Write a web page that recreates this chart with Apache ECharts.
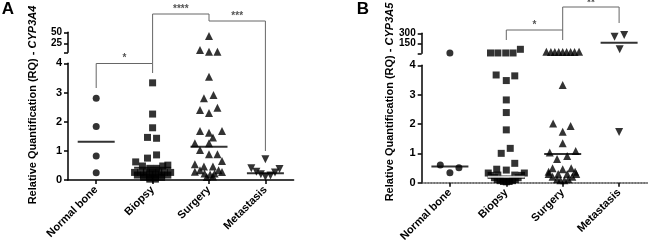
<!DOCTYPE html>
<html>
<head>
<meta charset="utf-8">
<script src="https://cdn.jsdelivr.net/npm/echarts@6/dist/echarts.min.js"></script>
<style>
  html, body { margin: 0; padding: 0; background: #fff; }
  #container { width: 650px; height: 245px; }
</style>
</head>
<body>
<div id="container"></div>
<script>
var categories = ['Normal bone', 'Biopsy', 'Surgery', 'Metastasis'];

// points are [horizontal jitter (category units), RQ value]
// panel A - CYP3A4
var aNormal = [[0, 2.8], [0, 1.83], [0, 0.82], [0, 0.25]];
var aBiopsy = [[0, 3.33], [0, 2.26], [0, 1.79], [-0.09, 1.46], [0.07, 1.43], [-0.09, 0.75], [0.07, 0.86],
    [-0.3, 0.62], [-0.18, 0.48], [0.18, 0.48], [0.27, 0.51], [-0.05, 0.4], [0.07, 0.4],
    [-0.32, 0.26], [-0.21, 0.26], [-0.11, 0.27], [0, 0.26], [0.11, 0.27], [0.21, 0.26], [0.32, 0.26],
    [-0.27, 0.17], [-0.16, 0.17], [-0.05, 0.18], [0.05, 0.18], [0.16, 0.17], [0.27, 0.17],
    [-0.16, 0.09], [-0.05, 0.08], [0.05, 0.08], [0.16, 0.09], [-0.05, 0.03], [0.05, 0.03]];
var aSurgery = [[0, 3.54], [-0.09, 2.8], [0.08, 2.91], [-0.16, 2.4], [0, 2.3], [0.15, 2.48],
    [-0.16, 1.68], [0, 1.62], [0.23, 1.68], [0.07, 1.46], [-0.25, 1.26], [0, 1.26],
    [-0.16, 1.03], [0, 0.88], [0.15, 0.88], [-0.25, 0.54], [-0.09, 0.46], [0.07, 0.46], [0.23, 0.65],
    [-0.25, 0.28], [-0.16, 0.33], [-0.08, 0.22], [0.02, 0.19], [0.1, 0.22], [0.17, 0.33], [0.23, 0.27],
    [-0.04, 0.1], [0.07, 0.12]];
var aSurgeryHigh = [[0, 41.6], [-0.16, 9.8], [0, 6], [0.15, 6]];
var aMetastasis = [[0, 0.71], [-0.25, 0.4], [-0.16, 0.28], [-0.08, 0.2], [0, 0.11], [0.09, 0.15], [0.17, 0.26], [0.25, 0.38]];
var aMeans = [1.31, 0.42, 1.14, 0.23];

// panel B - CYP3A5
var bNormal = [[-0.17, 0.6], [0, 0.34], [0.16, 0.51]];
var bNormalHigh = [[0, 5]];
var bBiopsy = [[-0.18, 3.67], [0, 3.48], [0.15, 3.64], [0, 2.82], [0, 2.39], [0, 1.8], [-0.09, 1.0], [0.07, 1.17],
    [0.15, 0.66], [-0.17, 0.46], [0, 0.43],
    [-0.32, 0.33], [-0.27, 0.25], [-0.21, 0.17], [-0.16, 0.11], [-0.11, 0.07], [-0.05, 0.04], [0, 0.03],
    [0.05, 0.04], [0.11, 0.07], [0.16, 0.11], [0.21, 0.17], [0.27, 0.25], [0.32, 0.33],
    [-0.15, 0.26], [-0.06, 0.13], [0.06, 0.13], [0.15, 0.26]];
var bBiopsyHigh = [[-0.28, 5], [-0.15, 5], [-0.01, 5], [0.12, 5], [0.25, 60]];
var bSurgery = [[0, 3.33], [-0.17, 2.02], [0.14, 1.93], [0, 1.74], [0, 1.34], [-0.23, 1.03], [0.23, 1.08],
    [-0.1, 0.81], [0.08, 0.91], [-0.18, 0.49], [0, 0.46], [0.15, 0.49], [-0.25, 0.37], [0.22, 0.37],
    [-0.25, 0.3], [-0.18, 0.2], [-0.1, 0.12], [-0.04, 0.08], [0.03, 0.08], [0.1, 0.12], [0.17, 0.2], [0.24, 0.3],
    [-0.08, 0.3], [0.08, 0.3]];
var bSurgeryHigh = [[-0.29, 22], [-0.21, 20], [-0.14, 20], [-0.07, 20], [0, 20], [0.07, 20], [0.14, 20], [0.21, 20], [0.29, 22]];
var bMetastasis = [[0, 1.73]];
var bMetastasisHigh = [[-0.08, 249], [0.09, 275], [0.01, 60]];
var bMeans = [0.55, 0.2, 0.98, null];
var bMeansHigh = [null, null, null, 159];

var lowTicks = [0, 1, 2, 3, 4];
var aHighTicks = [25, 50];
var bHighTicks = [150, 300];

// significance brackets: from/to category, y in px of bar top and of both drop ends
var aBrackets = [
    {from: 0, to: 1, top: 63.5, end0: 88, end1: 73, text: '*', ty: 58},
    {from: 1, to: 2, top: 14, end0: 63.5, end1: 21, text: '****', ty: 9},
    {from: 2, to: 3, top: 21, end0: 21, end1: 151, text: '***', ty: 16}
];
var bBrackets = [
    {from: 1, to: 2, top: 30, end0: 40, end1: 40, text: '*', ty: 25},
    {from: 2, to: 3, top: 7, end0: 30, end1: 23, text: '**', ty: 3}
];

var FONT = '"Liberation Sans", Arial, sans-serif';

function place(cat, arr) {
    return arr.map(function (p) { return [cat + p[0], p[1]]; });
}

function meanData(arr) {
    var out = [];
    arr.forEach(function (m, i) { if (m !== null) out.push([i, m]); });
    return out;
}

var shapes = [
    {symbol: 'circle', size: 7, rotate: 0},
    {symbol: 'rect', size: 7, rotate: 0},
    {symbol: 'triangle', size: 8, rotate: 0},
    {symbol: 'triangle', size: 8, rotate: 180}
];

function dots(cat, arr, axis) {
    var s = shapes[cat];
    return {
        type: 'scatter',
        xAxisIndex: axis, yAxisIndex: axis,
        symbol: s.symbol, symbolSize: s.size, symbolRotate: s.rotate,
        itemStyle: {color: '#000'},
        clip: false, silent: true,
        data: place(cat, arr)
    };
}

function means(arr, axis, whiteCat) {
    return {
        type: 'scatter',
        xAxisIndex: axis, yAxisIndex: axis,
        symbol: 'rect', symbolSize: [37, 2],
        z: 5, clip: false, silent: true,
        data: meanData(arr).map(function (d) {
            return d[0] === whiteCat ? {value: d, itemStyle: {color: '#fff'}} : {value: d, itemStyle: {color: '#000'}};
        })
    };
}

var axisLineStyle = {color: '#000', width: 1.5};
var labelStyle = {color: '#000', fontWeight: 'bold', fontSize: 11, fontFamily: FONT};

function lowX(gridIndex, dotted) {
    return {
        type: 'value', gridIndex: gridIndex, min: -0.5, max: 3.5,
        splitLine: {show: false},
        axisLine: {show: true, onZero: false, lineStyle: {color: dotted ? '#444' : '#000', width: 1.5, type: dotted ? 'dotted' : 'solid'}},
        axisTick: {show: true, length: 4, customValues: [0, 1, 2, 3], lineStyle: axisLineStyle},
        axisLabel: Object.assign({
            customValues: [0, 1, 2, 3], rotate: 45, margin: 8,
            formatter: function (v) { return categories[Math.round(v)]; }
        }, labelStyle)
    };
}

function highX(gridIndex) {
    return {type: 'value', gridIndex: gridIndex, min: -0.5, max: 3.5, show: false};
}

function lowY(gridIndex) {
    return {
        type: 'value', gridIndex: gridIndex, min: 0, max: 4, interval: 1,
        splitLine: {show: false},
        axisLine: {show: true, onZero: false, lineStyle: axisLineStyle},
        axisTick: {show: true, length: 4, customValues: lowTicks, lineStyle: axisLineStyle},
        axisLabel: Object.assign({margin: 6}, labelStyle)
    };
}

function highY(gridIndex, min, max, ticks) {
    return {
        type: 'value', gridIndex: gridIndex, min: min, max: max,
        splitLine: {show: false},
        axisLine: {show: true, onZero: false, lineStyle: axisLineStyle},
        axisTick: {show: true, length: 4, customValues: [min].concat(ticks), lineStyle: axisLineStyle},
        axisLabel: Object.assign({}, labelStyle, {margin: 6, fontSize: 10, lineHeight: 10, hideOverlap: false, customValues: ticks})
    };
}

var dom = document.getElementById('container');
var myChart = echarts.init(dom, null, {renderer: 'canvas'});

var option = {
    animation: false,
    backgroundColor: '#fff',
    grid: [
        {left: 68, top: 63.3, width: 225.6, height: 116.7},
        {left: 68, top: 32.3, width: 225.6, height: 20},
        {left: 421.7, top: 65.3, width: 225.6, height: 117.4},
        {left: 421.7, top: 33.3, width: 225.6, height: 20}
    ],
    xAxis: [lowX(0, false), highX(1), lowX(2, true), highX(3)],
    yAxis: [
        lowY(0),
        highY(1, 4.5, 50, aHighTicks),
        lowY(2),
        highY(3, 0, 300, bHighTicks)
    ],
    series: [
        dots(0, aNormal, 0), dots(1, aBiopsy, 0), dots(2, aSurgery, 0), dots(3, aMetastasis, 0),
        means(aMeans, 0, -1),
        dots(2, aSurgeryHigh, 1),
        dots(0, bNormal, 2), dots(1, bBiopsy, 2), dots(2, bSurgery, 2), dots(3, bMetastasis, 2),
        means(bMeans, 2, 1),
        dots(0, bNormalHigh, 3), dots(1, bBiopsyHigh, 3), dots(2, bSurgeryHigh, 3), dots(3, bMetastasisHigh, 3),
        means(bMeansHigh, 3, -1)
    ]
};
myChart.setOption(option);

// brackets, titles and panel letters
var graphics = [];
function addBrackets(list, gridIndex) {
    list.forEach(function (b) {
        var x0 = myChart.convertToPixel({xAxisIndex: gridIndex}, b.from);
        var x1 = myChart.convertToPixel({xAxisIndex: gridIndex}, b.to);
        graphics.push({
            type: 'polyline', silent: true,
            shape: {points: [[x0, b.end0], [x0, b.top], [x1, b.top], [x1, b.end1]]},
            style: {stroke: '#666', lineWidth: 1, fill: null}
        });
        graphics.push({
            type: 'text', silent: true, x: (x0 + x1) / 2, y: b.ty,
            style: {text: b.text, fill: '#555', fontSize: 10, fontWeight: 'bold', fontFamily: FONT,
                align: 'center', verticalAlign: 'middle', textAlign: 'center', textVerticalAlign: 'middle'}
        });
    });
}
addBrackets(aBrackets, 0);
addBrackets(bBrackets, 2);

function yTitle(x, y, gene) {
    return {
        type: 'text', silent: true, x: x, y: y, rotation: Math.PI / 2,
        style: {
            text: '{r|Relative Quantification (RQ) - }{i|' + gene + '}',
            align: 'center', verticalAlign: 'middle', textAlign: 'center', textVerticalAlign: 'middle',
            rich: {
                r: {fontSize: 11, fontWeight: 'bold', fontFamily: FONT, fill: '#000'},
                i: {fontSize: 11, fontWeight: 'bold', fontStyle: 'italic', fontFamily: FONT, fill: '#000'}
            }
        }
    };
}
graphics.push(yTitle(33, 105, 'CYP3A4'));
graphics.push(yTitle(390, 102, 'CYP3A5'));

graphics.push({type: 'text', silent: true, x: 8, y: 9,
    style: {text: 'A', fontSize: 17, fontWeight: 'bold', fontFamily: FONT, fill: '#000',
        align: 'center', verticalAlign: 'middle', textAlign: 'center', textVerticalAlign: 'middle'}});
graphics.push({type: 'text', silent: true, x: 363, y: 9,
    style: {text: 'B', fontSize: 17, fontWeight: 'bold', fontFamily: FONT, fill: '#000',
        align: 'center', verticalAlign: 'middle', textAlign: 'center', textVerticalAlign: 'middle'}});

myChart.setOption({graphic: {elements: graphics}});
</script>
</body>
</html>
